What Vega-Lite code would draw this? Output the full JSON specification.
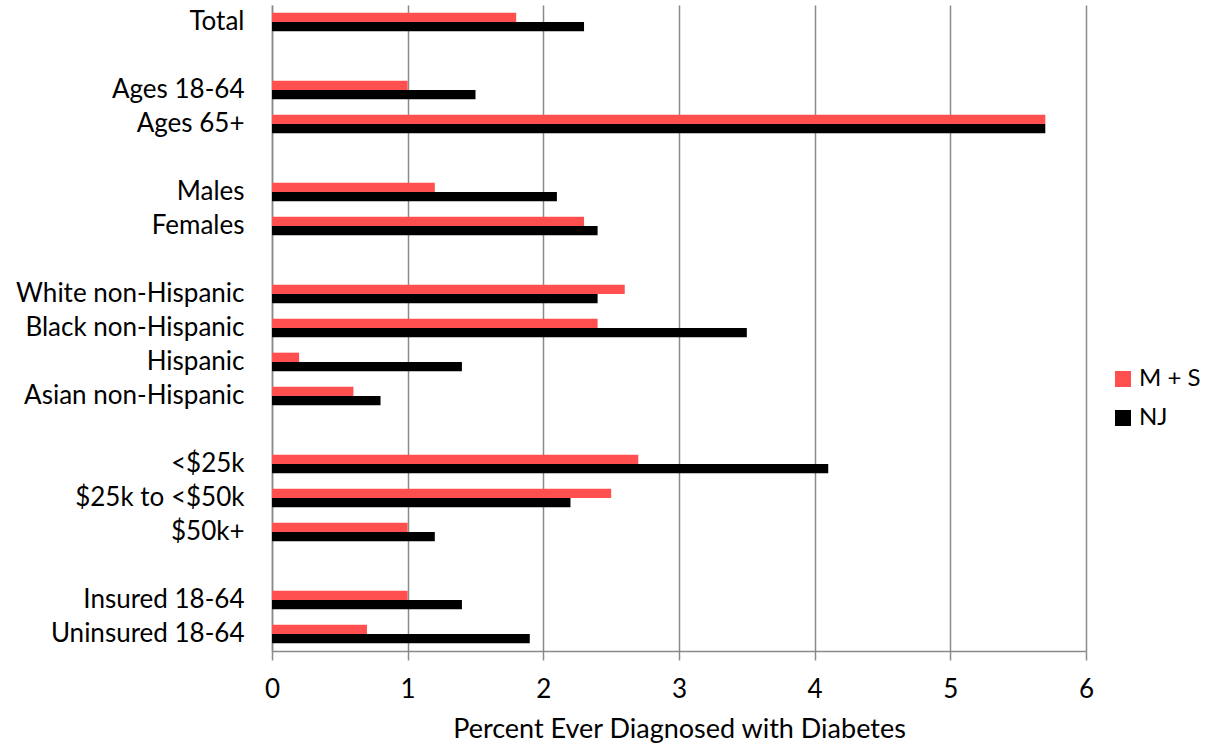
{
  "$schema": "https://vega.github.io/schema/vega-lite/v6.json",
  "width": 814,
  "height": 646,
  "autosize": "none",
  "padding": {"left": 272, "top": 5, "right": 123, "bottom": 96},
  "background": "white",
  "config": {
    "view": {"stroke": null},
    "font": "Lato"
  },
  "data": {
    "values": [
      {"category": "Total", "group": "M + S", "value": 1.8},
      {"category": "Total", "group": "NJ", "value": 2.3},
      {"category": "Ages 18-64", "group": "M + S", "value": 1.0},
      {"category": "Ages 18-64", "group": "NJ", "value": 1.5},
      {"category": "Ages 65+", "group": "M + S", "value": 5.7},
      {"category": "Ages 65+", "group": "NJ", "value": 5.7},
      {"category": "Males", "group": "M + S", "value": 1.2},
      {"category": "Males", "group": "NJ", "value": 2.1},
      {"category": "Females", "group": "M + S", "value": 2.3},
      {"category": "Females", "group": "NJ", "value": 2.4},
      {"category": "White non-Hispanic", "group": "M + S", "value": 2.6},
      {"category": "White non-Hispanic", "group": "NJ", "value": 2.4},
      {"category": "Black non-Hispanic", "group": "M + S", "value": 2.4},
      {"category": "Black non-Hispanic", "group": "NJ", "value": 3.5},
      {"category": "Hispanic", "group": "M + S", "value": 0.2},
      {"category": "Hispanic", "group": "NJ", "value": 1.4},
      {"category": "Asian non-Hispanic", "group": "M + S", "value": 0.6},
      {"category": "Asian non-Hispanic", "group": "NJ", "value": 0.8},
      {"category": "<$25k", "group": "M + S", "value": 2.7},
      {"category": "<$25k", "group": "NJ", "value": 4.1},
      {"category": "$25k to <$50k", "group": "M + S", "value": 2.5},
      {"category": "$25k to <$50k", "group": "NJ", "value": 2.2},
      {"category": "$50k+", "group": "M + S", "value": 1.0},
      {"category": "$50k+", "group": "NJ", "value": 1.2},
      {"category": "Insured 18-64", "group": "M + S", "value": 1.0},
      {"category": "Insured 18-64", "group": "NJ", "value": 1.4},
      {"category": "Uninsured 18-64", "group": "M + S", "value": 0.7},
      {"category": "Uninsured 18-64", "group": "NJ", "value": 1.9}
    ]
  },
  "mark": {"type": "bar"},
  "encoding": {
    "y": {
      "field": "category",
      "type": "nominal",
      "scale": {
        "domain": ["Total", "gap1", "Ages 18-64", "Ages 65+", "gap2", "Males", "Females", "gap3", "White non-Hispanic", "Black non-Hispanic", "Hispanic", "Asian non-Hispanic", "gap4", "<$25k", "$25k to <$50k", "$50k+", "gap5", "Insured 18-64", "Uninsured 18-64"],
        "paddingInner": 0.45,
        "paddingOuter": 0.225
      },
      "axis": {
        "title": null,
        "ticks": false,
        "domain": true,
        "domainColor": "#8a8a8a",
        "domainWidth": 1.5,
        "labelFontSize": 26,
        "labelColor": "#000000",
        "labelPadding": 28,
        "labelLimit": 400,
        "labelFont": "Lato",
        "labelExpr": "indexof(datum.value, 'gap') === 0 ? '' : datum.value"
      }
    },
    "yOffset": {
      "field": "group",
      "type": "nominal",
      "scale": {"domain": ["M + S", "NJ"], "paddingInner": 0, "paddingOuter": 0}
    },
    "x": {
      "field": "value",
      "type": "quantitative",
      "scale": {"domain": [0, 6], "nice": false},
      "axis": {
        "title": "Percent Ever Diagnosed with Diabetes",
        "titleFontSize": 27,
        "titleFontWeight": "normal",
        "titleColor": "#000000",
        "titlePadding": 14,
        "titleFont": "Lato",
        "values": [0, 1, 2, 3, 4, 5, 6],
        "format": "d",
        "labelFontSize": 26,
        "labelColor": "#000000",
        "labelFont": "Lato",
        "labelPadding": 16,
        "labelFlush": false,
        "domainColor": "#8a8a8a",
        "domainWidth": 1.5,
        "tickColor": "#8a8a8a",
        "tickWidth": 1.5,
        "tickSize": 9,
        "grid": true,
        "gridColor": "#8a8a8a",
        "gridWidth": 1.5
      }
    },
    "color": {
      "field": "group",
      "type": "nominal",
      "scale": {"domain": ["M + S", "NJ"], "range": ["#FF4F4F", "#000000"]},
      "legend": {
        "title": null,
        "orient": "none",
        "legendX": 839,
        "legendY": 362,
        "padding": 0,
        "symbolType": "square",
        "symbolSize": 256,
        "symbolStrokeWidth": 0,
        "labelFontSize": 24,
        "labelFont": "Lato",
        "labelColor": "#000000",
        "labelOffset": 4,
        "rowPadding": 15
      }
    }
  }
}
